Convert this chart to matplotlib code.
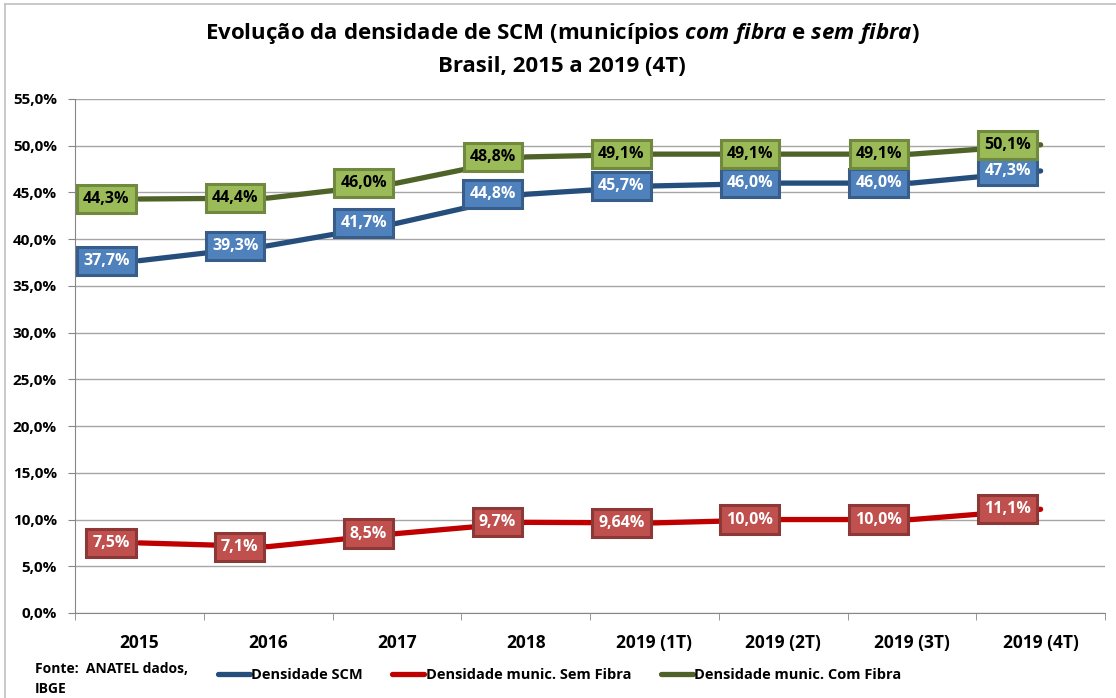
import matplotlib
matplotlib.use("Agg")
import matplotlib.pyplot as plt
from matplotlib.lines import Line2D
from matplotlib.font_manager import fontManager

names = {f.name for f in fontManager.ttflist}
fam = [f for f in ["Liberation Sans Narrow", "Open Sans", "DejaVu Sans"] if f in names]
plt.rcParams['font.family'] = fam
plt.rcParams['mathtext.fontset'] = 'custom'
plt.rcParams['mathtext.it'] = fam[0] + ':italic:bold'
plt.rcParams['mathtext.rm'] = fam[0] + ':bold'

categories = ["2015", "2016", "2017", "2018", "2019 (1T)", "2019 (2T)", "2019 (3T)", "2019 (4T)"]
scm = [37.7, 39.3, 41.7, 44.8, 45.7, 46.0, 46.0, 47.3]
sem_fibra = [7.5, 7.1, 8.5, 9.7, 9.64, 10.0, 10.0, 11.1]
com_fibra = [44.3, 44.4, 46.0, 48.8, 49.1, 49.1, 49.1, 50.1]
scm_labels = ["37,7%", "39,3%", "41,7%", "44,8%", "45,7%", "46,0%", "46,0%", "47,3%"]
sem_labels = ["7,5%", "7,1%", "8,5%", "9,7%", "9,64%", "10,0%", "10,0%", "11,1%"]
com_labels = ["44,3%", "44,4%", "46,0%", "48,8%", "49,1%", "49,1%", "49,1%", "50,1%"]
yticks = [0, 5, 10, 15, 20, 25, 30, 35, 40, 45, 50, 55]
ytick_labels = ["0,0%", "5,0%", "10,0%", "15,0%", "20,0%", "25,0%", "30,0%", "35,0%",
                "40,0%", "45,0%", "50,0%", "55,0%"]

fig = plt.figure(figsize=(11.16, 6.98), dpi=100)
ax = fig.add_axes([75/1116, 1-613/698, (1105-75)/1116, (613-99)/698])

x = list(range(len(categories)))
series = [
    (scm, scm_labels, "#254E7D", "#4F81BD", "#385D8A", "white", "Densidade SCM"),
    (sem_fibra, sem_labels, "#C00000", "#C0504D", "#8C3836", "white", "Densidade munic. Sem Fibra"),
    (com_fibra, com_labels, "#4F6228", "#9BBB59", "#71893F", "black", "Densidade munic. Com Fibra"),
]
handles = []
for vals, labs, lc, fc, ec, tc, name in series:
    ax.plot(x, vals, color=lc, lw=3.8, solid_capstyle="round", solid_joinstyle="round", zorder=3)
    handles.append(Line2D([0], [0], color=lc, lw=3.8, solid_capstyle="round"))
    for xi, v, lab in zip(x, vals, labs):
        ax.annotate(lab, (xi, v), xytext=(-7, 0), textcoords="offset points",
                    ha="right", va="center", fontsize=11.5, fontweight="bold", color=tc,
                    bbox=dict(boxstyle="square,pad=0.38", fc=fc, ec=ec, lw=2.2), zorder=4)

ax.set_xlim(-0.5, len(categories) - 0.5)
ax.set_ylim(0, 55)
ax.set_yticks(yticks)
ax.set_yticklabels(ytick_labels, fontsize=11, fontweight="bold")
ax.set_xticks(x)
ax.set_xticklabels(categories, fontsize=12.5, fontweight="bold")
ax.set_xticks([i + 0.5 for i in range(-1, len(categories))], minor=True)
ax.tick_params(axis="x", which="major", length=0, pad=15)
ax.tick_params(axis="x", which="minor", length=5, color="#868686", direction="out")
ax.tick_params(axis="y", length=5, color="#868686", direction="out", pad=8)
ax.grid(axis="y", color="#A6A6A6", lw=1)
ax.set_axisbelow(True)
for s in ["top", "right"]:
    ax.spines[s].set_visible(False)
for s in ["left", "bottom"]:
    ax.spines[s].set_color("#868686")

fig.text(562/1116, 1-33/698, "Evolução da densidade de SCM (municípios $\\it{com\\ fibra}$ e $\\it{sem\\ fibra}$)",
         ha="center", va="center", fontsize=16, fontweight="bold")
fig.text(562/1116, 1-66/698, "Brasil, 2015 a 2019 (4T)", ha="center", va="center",
         fontsize=16, fontweight="bold")

fig.text(35/1116, 1-679/698, "Fonte:  ANATEL dados,\nIBGE", ha="left", va="center",
         fontsize=10, fontweight="bold", linespacing=1.6)
fig.legend(handles, [s[6] for s in series], loc="center left", bbox_to_anchor=(212/1116, 1-675/698),
           ncol=3, frameon=False, prop=dict(size=10.5, weight="bold"), handlelength=2.2,
           handletextpad=0.1, columnspacing=2.0, borderaxespad=0)

fig.add_artist(Line2D([5/1116, 5/1116], [0, 1-4/698], color="#BFBFBF", lw=1.2))
fig.add_artist(Line2D([5/1116, 1], [1-4/698, 1-4/698], color="#BFBFBF", lw=1.2))

fig.savefig("out.png", dpi=100)
